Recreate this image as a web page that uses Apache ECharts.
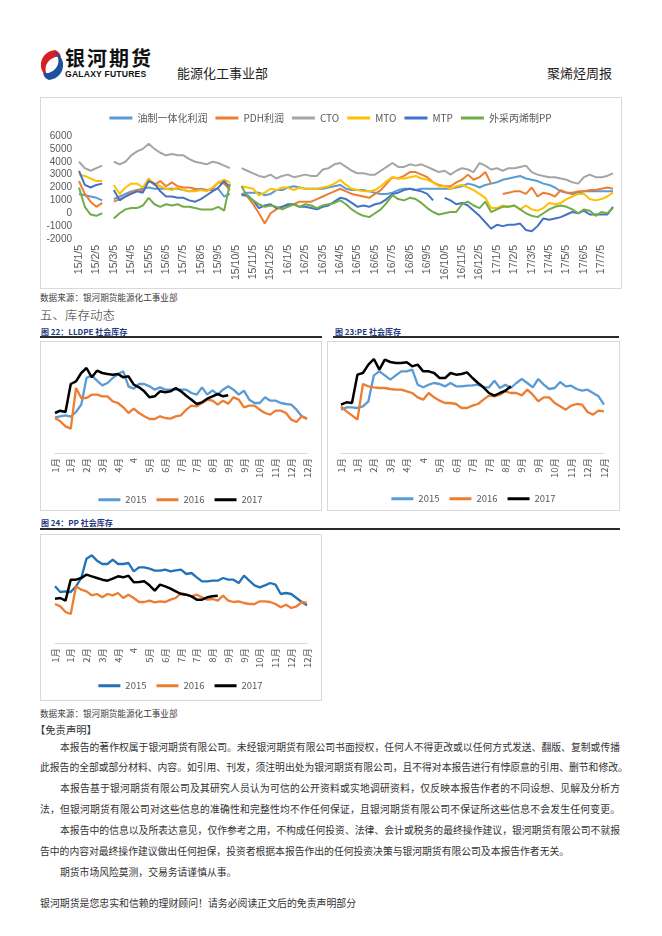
<!DOCTYPE html>
<html><head><meta charset="utf-8">
<script src="https://cdn.jsdelivr.net/npm/echarts@6/dist/echarts.min.js"></script>
<style>
body{margin:0;background:#fff;font-family:"Noto Sans CJK SC","Noto Sans",sans-serif;}
#page{position:relative;width:662px;height:936px;overflow:hidden;background:#fff;}
.abs{position:absolute;white-space:nowrap;}
.box{position:absolute;border:1px solid #d9d9d9;box-sizing:border-box;}
.chart{position:absolute;}
.ttl{position:absolute;font-size:8px;font-weight:bold;color:#1f3a80;font-family:"Noto Sans CJK SC",serif;}
.uline{position:absolute;height:1.5px;background:#2a2a2a;}
.p{position:absolute;font-size:9.8px;line-height:14px;color:#333;white-space:nowrap;}
.j{text-align:justify;text-align-last:justify;}
</style></head>
<body><div id="page">
<svg class="abs" style="left:39px;top:49px" width="26" height="32" viewBox="0 0 26 32">
 <path d="M16 1 C7 2 1 9 2 18 C3 24 7 28 11 29 C6 25 5 18 9 13 C12 9 17 7 22 8 C21 4 19 2 16 1Z" fill="#d61f26"/>
 <path d="M10 31 C19 30 25 23 24 14 C23 8 19 4 15 3 C20 7 21 14 17 19 C14 23 9 25 4 24 C5 28 7 30 10 31Z" fill="#1d4f9c"/>
</svg>
<div class="abs" style="left:65px;top:46px;font-size:20px;font-weight:bold;letter-spacing:2px;color:#111;line-height:24px">银河期货</div>
<div class="abs" style="left:65px;top:69px;font-size:8.6px;font-weight:bold;color:#111;font-family:'Liberation Sans',Arial,sans-serif;letter-spacing:0.2px;line-height:10px">GALAXY FUTURES</div>
<div class="abs" style="left:177px;top:65px;font-size:13px;color:#222;line-height:16px">能源化工事业部</div>
<div class="abs" style="left:547px;top:65px;font-size:13px;color:#222;line-height:16px">聚烯烃周报</div>

<div class="box" style="left:40px;top:97px;width:582px;height:192px"></div>
<div id="c1" class="chart" style="left:40px;top:97px;width:581px;height:192px"></div>

<div class="abs" style="left:40px;top:292px;font-size:8.6px;color:#404040;line-height:11px">数据来源：银河期货能源化工事业部</div>
<div class="abs" style="left:40px;top:307px;font-size:12.5px;color:#333;line-height:16px;font-weight:300">五、库存动态</div>

<div class="ttl" style="left:41px;top:326px">图 22：LLDPE 社会库存</div>
<div class="uline" style="left:40px;top:336px;width:282px"></div>
<div class="ttl" style="left:335px;top:326px">图 23:PE 社会库存</div>
<div class="uline" style="left:333px;top:336px;width:286px"></div>

<div class="box" style="left:40px;top:341px;width:282px;height:170px"></div>
<div id="c2" class="chart" style="left:40px;top:341px;width:281px;height:169px"></div>
<div class="box" style="left:327px;top:341px;width:293px;height:170px"></div>
<div id="c3" class="chart" style="left:327px;top:341px;width:293px;height:169px"></div>

<div class="ttl" style="left:41px;top:517px">图 24：PP 社会库存</div>
<div class="uline" style="left:40px;top:528px;width:580px"></div>
<div class="box" style="left:40px;top:534px;width:282px;height:167px"></div>
<div id="c4" class="chart" style="left:40px;top:534px;width:281px;height:167px"></div>

<div class="abs" style="left:40px;top:708px;font-size:8.6px;color:#404040;line-height:11px">数据来源：银河期货能源化工事业部</div>
<div class="p" style="left:35px;top:723px;font-size:10.3px">【免责声明】</div>
<div class="p j" style="left:60px;top:740px;width:560px">本报告的著作权属于银河期货有限公司。未经银河期货有限公司书面授权，任何人不得更改或以任何方式发送、翻版、复制或传播</div>
<div class="p j" style="left:40px;top:760px;width:573px">此报告的全部或部分材料、内容。如引用、刊发，须注明出处为银河期货有限公司，且不得对本报告进行有悖原意的引用、删节和修改。</div>
<div class="p j" style="left:60px;top:781px;width:560px">本报告基于银河期货有限公司及其研究人员认为可信的公开资料或实地调研资料，仅反映本报告作者的不同设想、见解及分析方</div>
<div class="p j" style="left:40px;top:802px;width:580px">法，但银河期货有限公司对这些信息的准确性和完整性均不作任何保证，且银河期货有限公司不保证所这些信息不会发生任何变更。</div>
<div class="p j" style="left:60px;top:823px;width:560px">本报告中的信息以及所表达意见，仅作参考之用，不构成任何投资、法律、会计或税务的最终操作建议，银河期货有限公司不就报</div>
<div class="p" style="left:40px;top:844px">告中的内容对最终操作建议做出任何担保，投资者根据本报告作出的任何投资决策与银河期货有限公司及本报告作者无关。</div>
<div class="p" style="left:60px;top:865px">期货市场风险莫测，交易务请谨慎从事。</div>

<div class="p" style="left:40px;top:896px;font-size:9.9px">银河期货是您忠实和信赖的理财顾问！请务必阅读正文后的免责声明部分</div>
</div>
<script>
// ---------- Top chart data (sampled on the 5th, 15th, 25th of each month) ----------
const topYears = [2015, 2016, 2017];
const topLastMonth = 7;           // data runs to July 2017
const sampleDays = [5, 15, 25];
const topLegend = ['油制一体化利润', 'PDH利润', 'CTO', 'MTO', 'MTP', '外采丙烯制PP'];
const topYTicks = [-2000, 6000, 1000]; // min, max, step

const oilProfit = [
 1500,1400,1300, 1200,1000,null, 1100,1300,1500, 1700,1800,1900, 2000,1900,1900, 1900,1900,1900, 1800,1700,1800, 1900,1800,1800, 1900,1300,1500, null,1500,1600, 1600,1600,1400, 1500,1800,1800,
 2000,2100,2000, 1900,1900,1900, 1900,2000,2100, 2200,1900,1800, 1800,1800,1700, 1600,1500,1500, 1600,1800,1900, 1900,1800,1900, 1900,1900,1900, 1900,1900,2000, 2100,2300,2200, 2000,2200,2300,
 2400,2600,2700, 2800,2900,2700, 2600,2500,2300, 2200,2000,1700, 1600,1500,1600, 1700,1700,1700, 1700,1700,1700];
const pdhProfit = [
 2500,1500,900, 500,800,null, 900,1100,1300, 1600,1800,1700, 2600,2200,2500, 2100,2400,2100, 2000,2000,1900, 1800,1800,1900, 2400,2300,1800, null,1500,1300, 700,0,-800, 0,300,500,
 600,700,900, 900,900,1100, 1300,1500,1700, 1900,1700,1500, 1400,1300,1200, 1500,1800,2300, 2800,2700,2900, 3200,3200,3000, 2800,2400,2200, 2100,2100,2400, 2600,3000,2600, 2800,3200,2300,
 null,1500,1600, 1700,1700,1500, 2000,1300,1600, 1500,1300,1800, 1600,1600,1700, 1700,1800,1800, 1900,2000,1900];
const ctoProfit = [
 4000,3500,3300, 3500,3700,null, 4000,3800,4000, 4500,4800,5000, 5400,5000,4700, 4500,4600,4500, 4500,4200,4000, 3900,3800,4000, 3900,3700,3500, null,3500,3300, 3100,2900,2800, 3000,2700,2900,
 3000,2800,2900, 3000,2900,2900, 3400,3500,3800, 3900,3600,3300, 3100,3100,3000, 3000,3300,3600, 3900,3600,3600, 3800,3700,3800, 3600,3400,3200, 3300,3000,3300, 3500,3400,3200, 3900,3700,3400,
 3500,3300,3500, 3500,3600,3700, 3200,3000,2900, 2800,2800,2700, 2600,2400,2300, 2800,3000,2800, 2800,2900,3100];
const mtoProfit = [
 3000,2900,2700, 2500,2500,null, 2200,1500,2000, 2300,2300,2000, 2700,2300,2100, 1900,1800,2000, 1800,1700,1700, 1800,1700,2000, 2400,2600,2400, null,2100,2000, 1900,1400,1600, 1900,1800,2000,
 2000,1800,2000, 1900,1900,1900, 2000,2100,2300, 2600,2200,1900, 1800,1700,1700, 1800,2100,2500, 2800,2700,2700, 2800,2900,2700, 2600,2400,2100, 2100,1900,2100, 2200,2000,1800, 1500,1200,400,
 400,600,500, 600,300,600, 300,200,400, 800,700,800, 1100,1300,1500, 1500,1100,1000, 1100,1300,1600];
const mtpProfit = [
 3300,2200,2000, 2200,2300,null, 1800,1000,1300, 1500,1700,1600, 2500,2300,1700, 1300,1300,1200, 1200,1000,900, 1100,1400,1700, 2000,2500,2000, null,1400,1400, 1000,400,600, 700,400,500,
 700,700,500, 500,400,300, 500,600,900, 1200,1100,800, 500,600,500, 700,800,1100, 1500,1600,1800, 1900,1800,1700, 1500,1000,null, 1200,1000,700, 800,600,200, -200,-700,-1200,
 -900,-1000,-900, -900,-800,-1300, -1400,-1000,-400, -500,-400,-300, -100,100,0, 200,-100,-100, -100,-100,500];
const propyleneProfit = [
 2000,500,-100, -200,0,null, -400,0,300, 400,400,600, 1200,700,500, 700,600,700, 500,500,400, 300,300,300, 500,200,2300, null,2100,1300, 1000,700,500, 600,500,300,
 500,700,500, 700,600,400, 600,700,800, 1000,700,300, 0,-200,-300, 0,300,800, 1400,1100,1000, 1200,1100,800, 400,100,-100, 0,100,100, 700,900,600, 400,900,100,
 300,500,500, 600,300,0, -200,-300,0, 300,500,600, 500,300,0, 300,200,-200, 100,0,400];
const topColors = ['#5b9bd5','#ed7d31','#a5a5a5','#ffc000','#4472c4','#70ad47'];

// ---------- Inventory charts (weekly, relative level; y axis not shown) ----------
const invTickLabels = ['1月','1月','2月','3月','4月','4','5月','6月','7月','7月','8月','9月','9月','10月','11月','12月','12月'];
const invWeeks = 49;
const invLegend = ['2015','2016','2017'];

const lldpe2015 = [107,110,113,109,123,145,225,233,217,203,210,225,237,245,200,193,207,207,200,190,197,190,190,190,190,190,180,175,197,175,188,175,190,200,190,175,187,160,150,150,167,157,157,150,147,145,130,110,103];
const lldpe2016 = [105,95,80,73,195,165,165,175,175,170,170,155,150,137,120,133,120,110,102,102,110,105,103,110,113,130,142,140,150,160,157,145,157,148,167,160,137,142,142,130,120,115,127,127,120,100,93,110,102];
const lldpe2017 = [120,127,123,207,215,240,255,227,247,240,237,235,237,227,230,205,197,185,167,170,185,182,185,195,185,172,160,147,152,163,170,177,170,173];

const pe2015 = [130,137,137,135,140,155,233,245,233,220,233,245,245,250,205,197,205,210,207,200,210,200,200,202,203,205,197,197,217,195,205,195,210,222,210,197,222,205,192,195,213,200,202,192,187,190,180,170,145];
const pe2016 = [140,125,113,100,207,200,197,195,195,192,190,190,185,180,167,160,180,167,157,150,150,147,135,135,142,147,160,172,170,175,185,180,180,173,190,175,155,167,167,150,140,130,142,147,145,123,115,127,125];
const pe2017 = [145,152,150,235,240,265,282,250,280,273,270,270,272,260,265,245,245,240,225,225,240,235,237,242,225,210,197,180,172,180,187,200];

const pp2015 = [170,153,155,153,170,195,253,263,247,237,237,250,237,237,240,215,227,227,223,217,217,220,215,218,220,207,210,197,185,185,187,187,195,190,190,180,202,187,173,167,173,180,175,147,150,147,135,123,113];
const pp2016 = [117,110,93,87,170,160,155,143,147,137,147,143,150,135,145,135,123,123,127,122,125,123,130,135,150,145,140,145,137,130,132,127,142,127,123,125,120,117,117,125,125,123,117,107,115,105,110,123,120];
const pp2017 = [133,135,127,190,190,195,205,200,195,190,187,193,200,197,202,182,183,185,173,157,175,170,163,155,147,145,140,130,130,137,140,142];

const FONT = '"Noto Sans CJK SC","Noto Sans",sans-serif';

// build date categories
const topDates = [];
topYears.forEach(y => {
  const last = (y === 2017) ? topLastMonth : 12;
  for (let m = 1; m <= last; m++) sampleDays.forEach(d => topDates.push(String(y).slice(2) + '/' + m + '/' + d));
});

const c1 = echarts.init(document.getElementById('c1'), null, {renderer:'canvas'});
const topData = [oilProfit, pdhProfit, ctoProfit, mtoProfit, mtpProfit, propyleneProfit];
c1.setOption({
  animation:false,
  legend:{top:11, left:'center', icon:'rect', itemWidth:23, itemHeight:3, itemGap:8,
    textStyle:{fontSize:10, color:'#595959', fontFamily:FONT}, data:topLegend},
  grid:{left:39, right:8, top:39, height:103},
  xAxis:{type:'category', data:topDates, boundaryGap:false,
    axisLine:{show:false}, axisTick:{show:false},
    axisLabel:{interval:(i, v) => v.endsWith('/5'), rotate:90, fontSize:10.5, color:'#595959', margin:6,
      fontFamily:'"Liberation Sans",Arial,sans-serif'}},
  yAxis:{type:'value', min:topYTicks[0], max:topYTicks[1], interval:topYTicks[2],
    splitLine:{show:false}, axisLine:{show:false}, axisTick:{show:false},
    axisLabel:{fontSize:10, color:'#595959', margin:7, formatter:v => String(v),
      fontFamily:'"Liberation Sans",Arial,sans-serif'}},
  series: topLegend.map((n, i) => ({name:n, type:'line', data:topData[i], showSymbol:false,
    connectNulls:false, lineStyle:{width:2, color:topColors[i]}, itemStyle:{color:topColors[i]}}))
});

const invCats = [];
for (let i = 0; i < invWeeks; i++) invCats.push(i % 3 === 0 ? invTickLabels[i / 3] : '');

function invChart(id, data, colors, grid, legendTop) {
  const ch = echarts.init(document.getElementById(id), null, {renderer:'canvas'});
  ch.setOption({
    animation:false,
    legend:{top:legendTop, left:'center', icon:'rect', itemWidth:22, itemHeight:3, itemGap:10,
      textStyle:{fontSize:9.5, color:'#595959', fontFamily:FONT}, data:invLegend},
    grid:grid,
    xAxis:{type:'category', data:invCats, boundaryGap:false,
      axisLine:{lineStyle:{color:'#d9d9d9', width:1}}, axisTick:{show:false},
      axisLabel:{interval:2, rotate:90, fontSize:9.5, color:'#595959', margin:5, fontFamily:FONT}},
    yAxis:{type:'value', min:0, max:300, show:false},
    series: invLegend.map((n, i) => ({name:n, type:'line', data:data[i], showSymbol:false,
      lineStyle:{width:i === 2 ? 2.5 : 2.3, color:colors[i]}, itemStyle:{color:colors[i]}}))
  });
}
invChart('c2', [lldpe2015, lldpe2016, lldpe2017], ['#5b9bd5','#ed7d31','#000000'], {left:15, right:14, top:12, height:100}, 149);
invChart('c3', [pe2015, pe2016, pe2017], ['#5b9bd5','#ed7d31','#000000'], {left:14, right:16, top:12, height:100}, 148);
invChart('c4', [pp2015, pp2016, pp2017], ['#2272b8','#ed7d31','#000000'], {left:15, right:14, top:9, height:100}, 142);
</script>
</body></html>
